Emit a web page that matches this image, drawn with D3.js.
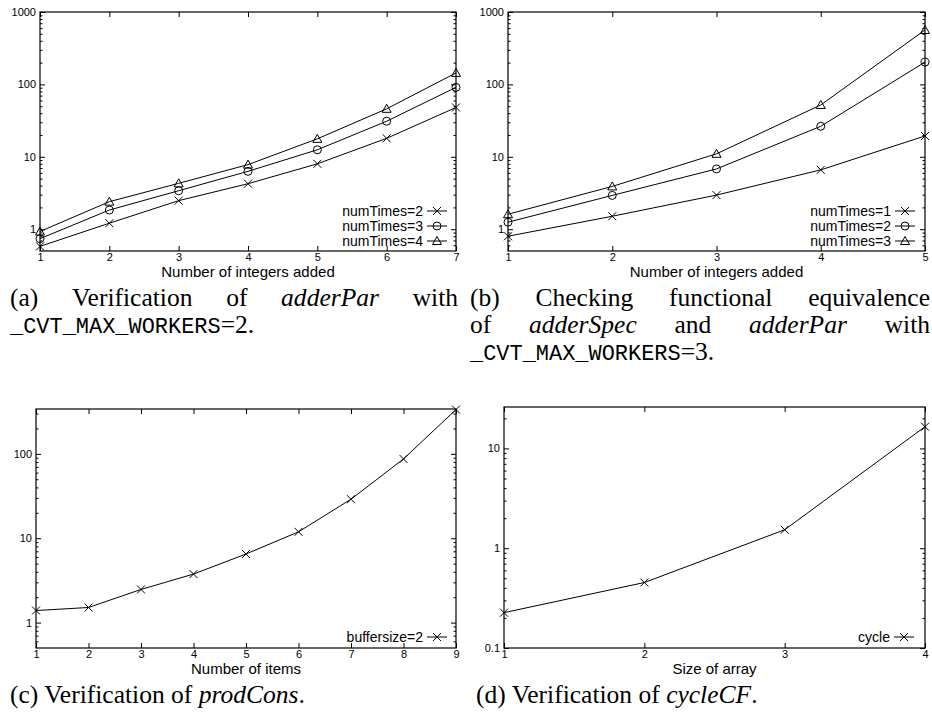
<!DOCTYPE html>
<html>
<head>
<meta charset="utf-8">
<script src="https://cdn.jsdelivr.net/npm/d3@7"></script>
<style>
  html, body { margin: 0; padding: 0; background: #fff; }
  svg { display: block; }
</style>
</head>
<body>
<svg id="fig" width="932" height="715"></svg>
<script>
// (a) adderPar, _CVT_MAX_WORKERS=2
const adderX = [1, 2, 3, 4, 5, 6, 7];
const adderTimes2 = [0.58, 1.21, 2.48, 4.25, 8.0, 18, 48];
const adderTimes3 = [0.74, 1.84, 3.4, 6.3, 12.5, 31, 91];
const adderTimes4 = [0.93, 2.4, 4.3, 7.8, 17.7, 46, 144];

// (b) adderSpec vs adderPar, _CVT_MAX_WORKERS=3
const equivX = [1, 2, 3, 4, 5];
const equivTimes1 = [0.80, 1.51, 2.96, 6.6, 19.4];
const equivTimes2 = [1.25, 2.93, 6.8, 26.4, 203];
const equivTimes3 = [1.61, 3.9, 11, 52, 564];

// (c) prodCons
const itemsX = [1, 2, 3, 4, 5, 6, 7, 8, 9];
const bufferSize2 = [1.39, 1.51, 2.47, 3.76, 6.5, 11.9, 29, 87, 335];

// (d) cycleCF
const arrayX = [1, 2, 3, 4];
const cycle = [0.226, 0.453, 1.53, 16.5];

const yTicksAB = [1, 10, 100, 1000];
const yTicksC = [1, 10, 100];
const yTicksD = [0.1, 1, 10];

const svg = d3.select('#fig');
const sansFont = '"Liberation Sans", Arial, Helvetica, sans-serif';

function marker(g, type, cx, cy) {
  if (type === 'cross') {
    g.append('path')
      .attr('d', `M${cx - 4},${cy - 4}L${cx + 4},${cy + 4}M${cx - 4},${cy + 4}L${cx + 4},${cy - 4}`)
      .attr('stroke', '#000').attr('stroke-width', 1).attr('fill', 'none');
  } else if (type === 'circle') {
    g.append('circle').attr('cx', cx).attr('cy', cy).attr('r', 4)
      .attr('stroke', '#000').attr('stroke-width', 1).attr('fill', 'none');
  } else {
    g.append('path')
      .attr('d', `M${cx},${cy - 4.5}L${cx + 4.5},${cy + 3.5}L${cx - 4.5},${cy + 3.5}Z`)
      .attr('stroke', '#000').attr('stroke-width', 1).attr('fill', 'none');
  }
}

function minorTicks(domain) {
  let out = [];
  let lo = Math.floor(Math.log10(domain[0]));
  let hi = Math.ceil(Math.log10(domain[1]));
  for (let e = lo; e <= hi; e++) {
    for (let k = 2; k <= 9; k++) {
      let v = k * Math.pow(10, e);
      if (v > domain[0] * 1.0001 && v < domain[1] * 0.9999) out.push(+v.toPrecision(3));
    }
  }
  return out;
}

function drawPanel(p) {
  let g = svg.append('g');
  let x = d3.scaleLinear().domain(p.xDomain).range([p.left, p.right]);
  let y = d3.scaleLog().domain(p.yDomain).range([p.bottom, p.top]);

  let styleAxis = (sel) => {
    sel.select('.domain').remove();
    sel.selectAll('line').attr('stroke', '#000').attr('stroke-width', 1);
    sel.selectAll('text').attr('font-family', sansFont).attr('font-size', 11).attr('fill', '#000');
  };

  // major ticks, inward, mirrored
  g.append('g').attr('transform', `translate(${p.left},0)`)
    .call(d3.axisLeft(y).tickValues(p.yTicks).tickFormat(d => String(d)).tickSize(-5).tickPadding(4))
    .call(styleAxis);
  g.append('g').attr('transform', `translate(${p.right},0)`)
    .call(d3.axisRight(y).tickValues(p.yTicks).tickFormat('').tickSize(-5))
    .call(styleAxis);
  let mins = minorTicks(p.yDomain);
  g.append('g').attr('transform', `translate(${p.left},0)`)
    .call(d3.axisLeft(y).tickValues(mins).tickFormat('').tickSize(-2.5))
    .call(styleAxis);
  g.append('g').attr('transform', `translate(${p.right},0)`)
    .call(d3.axisRight(y).tickValues(mins).tickFormat('').tickSize(-2.5))
    .call(styleAxis);
  g.append('g').attr('transform', `translate(0,${p.bottom})`)
    .call(d3.axisBottom(x).tickValues(p.xs).tickFormat(d => String(d)).tickSize(-5).tickPadding(2))
    .call(styleAxis);
  g.append('g').attr('transform', `translate(0,${p.top})`)
    .call(d3.axisTop(x).tickValues(p.xs).tickFormat('').tickSize(-5))
    .call(styleAxis);

  // frame
  g.append('rect')
    .attr('x', p.left).attr('y', p.top)
    .attr('width', p.right - p.left).attr('height', p.bottom - p.top)
    .attr('fill', 'none').attr('stroke', '#000').attr('stroke-width', 1.2);

  // x axis title
  g.append('text')
    .attr('x', (p.left + p.right) / 2).attr('y', p.bottom + 26)
    .attr('text-anchor', 'middle')
    .attr('font-family', sansFont).attr('font-size', 15)
    .text(p.xLabel);

  let line = d3.line().x(d => x(d[0])).y(d => y(d[1]));
  p.series.forEach((s, i) => {
    let pts = p.xs.map((xv, j) => [xv, s.values[j]]);
    g.append('path').attr('d', line(pts))
      .attr('fill', 'none').attr('stroke', '#000').attr('stroke-width', 1);
    pts.forEach(d => marker(g, s.marker, x(d[0]), y(d[1])));

    // legend entry
    let ly = p.legendY + i * 15;
    g.append('text')
      .attr('x', p.legendX).attr('y', ly).attr('dy', '0.35em')
      .attr('text-anchor', 'end')
      .attr('font-family', sansFont).attr('font-size', 14)
      .text(s.label);
    g.append('line')
      .attr('x1', p.legendX + 4).attr('x2', p.legendX + 24)
      .attr('y1', ly).attr('y2', ly)
      .attr('stroke', '#000').attr('stroke-width', 1);
    marker(g, s.marker, p.legendX + 14, ly);
  });
}

drawPanel({
  left: 40, right: 456, top: 12, bottom: 251,
  xDomain: [1, 7], yDomain: [0.5, 1000], xs: adderX, yTicks: yTicksAB,
  xLabel: 'Number of integers added', legendX: 423, legendY: 211,
  series: [
    { label: 'numTimes=2', values: adderTimes2, marker: 'cross' },
    { label: 'numTimes=3', values: adderTimes3, marker: 'circle' },
    { label: 'numTimes=4', values: adderTimes4, marker: 'triangle' }
  ]
});

drawPanel({
  left: 508, right: 925, top: 12, bottom: 251,
  xDomain: [1, 5], yDomain: [0.5, 1000], xs: equivX, yTicks: yTicksAB,
  xLabel: 'Number of integers added', legendX: 891, legendY: 211,
  series: [
    { label: 'numTimes=1', values: equivTimes1, marker: 'cross' },
    { label: 'numTimes=2', values: equivTimes2, marker: 'circle' },
    { label: 'numTimes=3', values: equivTimes3, marker: 'triangle' }
  ]
});

drawPanel({
  left: 36, right: 456, top: 409, bottom: 648,
  xDomain: [1, 9], yDomain: [0.5, 340], xs: itemsX, yTicks: yTicksC,
  xLabel: 'Number of items', legendX: 423, legendY: 637,
  series: [
    { label: 'buffersize=2', values: bufferSize2, marker: 'cross' }
  ]
});

drawPanel({
  left: 504, right: 925, top: 407, bottom: 648,
  xDomain: [1, 4], yDomain: [0.1, 26], xs: arrayX, yTicks: yTicksD,
  xLabel: 'Size of array', legendX: 890, legendY: 637,
  series: [
    { label: 'cycle', values: cycle, marker: 'cross' }
  ]
});

// ---- captions (LaTeX-like) ----
const serif = '"Liberation Serif", "Times New Roman", serif';
const mono = '"Liberation Mono", "DejaVu Sans Mono", monospace';

// fit the caption size so "(c) ..." is about as wide as in the figure
let probe = svg.append('text').attr('font-family', serif).attr('font-size', 20);
probe.append('tspan').text('(c) Verification of ');
probe.append('tspan').attr('font-style', 'italic').text('prodCons');
probe.append('tspan').text('.');
let capSize = 20 * 295 / probe.node().getComputedTextLength();
probe.remove();
let monoSize = capSize * 0.86;

function addRun(textSel, run) {
  let t = textSel.append('tspan').text(run.t);
  if (run.s === 'it') t.attr('font-style', 'italic');
  if (run.s === 'tt') t.attr('font-family', mono).attr('font-size', monoSize);
  return t;
}

function plainLine(x0, baseline, runs) {
  let t = svg.append('text').attr('x', x0).attr('y', baseline)
    .attr('font-family', serif).attr('font-size', capSize).attr('fill', '#000')
    .attr('xml:space', 'preserve');
  runs.forEach(r => addRun(t, r));
}

function justifiedLine(x0, x1, baseline, words) {
  let nodes = words.map(w => {
    let t = svg.append('text').attr('y', baseline)
      .attr('font-family', serif).attr('font-size', capSize).attr('fill', '#000');
    addRun(t, w);
    return t;
  });
  let widths = nodes.map(n => n.node().getComputedTextLength());
  let gap = (x1 - x0 - d3.sum(widths)) / (nodes.length - 1);
  let cx = x0;
  nodes.forEach((n, i) => { n.attr('x', cx); cx += widths[i] + gap; });
}

justifiedLine(10, 458, 306, [
  { t: '(a)' }, { t: 'Verification' }, { t: 'of' }, { t: 'adderPar', s: 'it' }, { t: 'with' }
]);
plainLine(10, 333, [{ t: '_CVT_MAX_WORKERS', s: 'tt' }, { t: '=2.' }]);

justifiedLine(470, 930, 306, [
  { t: '(b)' }, { t: 'Checking' }, { t: 'functional' }, { t: 'equivalence' }
]);
justifiedLine(470, 930, 333, [
  { t: 'of' }, { t: 'adderSpec', s: 'it' }, { t: 'and' }, { t: 'adderPar', s: 'it' }, { t: 'with' }
]);
plainLine(470, 360, [{ t: '_CVT_MAX_WORKERS', s: 'tt' }, { t: '=3.' }]);

plainLine(10, 703, [{ t: '(c) Verification of ' }, { t: 'prodCons', s: 'it' }, { t: '.' }]);
plainLine(476, 703, [{ t: '(d) Verification of ' }, { t: 'cycleCF', s: 'it' }, { t: '.' }]);
</script>
</body>
</html>
